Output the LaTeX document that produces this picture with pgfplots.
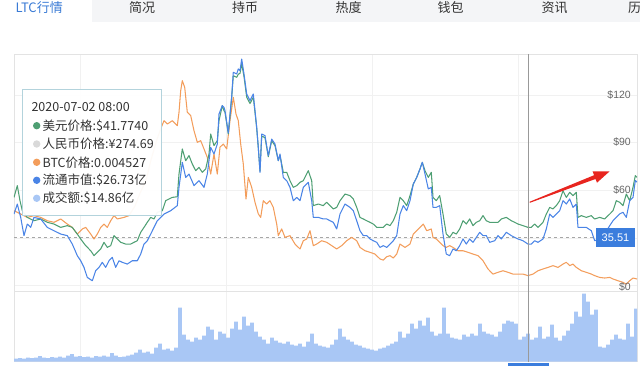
\documentclass[border=0pt]{standalone}
\usepackage{pgfplots}
\pgfplotsset{compat=1.18}
\usepackage{fontspec}
\setmainfont{Liberation Sans}
\newfontfamily\cjk{Noto Sans CJK SC}
\definecolor{cgreen}{HTML}{4E9F73}
\definecolor{corange}{HTML}{F39D5B}
\definecolor{cblue}{HTML}{4A84E6}
\definecolor{cvol}{HTML}{A9C7F5}
\definecolor{cgrid}{HTML}{F1F1F1}
\definecolor{cborder}{HTML}{E3E3E3}
\definecolor{ctabbg}{HTML}{F4F5F7}
\definecolor{ctab}{HTML}{3A7BD5}
\definecolor{ctext}{HTML}{333333}
\definecolor{clabel}{HTML}{666666}
\definecolor{cbox}{HTML}{3B7DDD}
\definecolor{carrow}{HTML}{E8251F}
\definecolor{ctipborder}{HTML}{B3D3DC}
\definecolor{crmb}{HTML}{D9D9D9}

\pgfplotstableread{
x v
14 55.4
17.3 62.8
20 53.3
22.3 47.0
27.3 42.8
34 40.7
40.7 41.8
47.3 39.7
54 38.6
60.7 36.5
67.3 37.6
72.3 36.5
77.3 32.3
80.7 29.2
85.7 25.0
90.7 21.8
94 18.7
97.3 20.8
100.7 22.9
104 27.1
107.3 23.9
110.7 25.0
114 31.3
117.3 29.2
120.7 27.1
125.7 26.0
130.7 26.0
134 27.1
137.3 28.1
140.7 33.4
144 36.5
147.3 39.7
150.7 42.8
154 41.8
157.3 46.0
162.3 47.0
165.7 53.3
169 54.4
172.3 55.4
177.3 55.8
179 70.1
182.3 85.9
185.7 78.5
189 81.7
192.3 76.4
195.7 72.2
199 74.3
202.3 71.2
205.7 73.3
209 82.7
210.7 95.3
214 88.0
217.3 91.1
219 103.7
222.3 113.2
224 110.0
225 109.0
228.3 95.3
231.7 118.4
233.3 132.0
236.7 131.0
238.3 133.0
240 133.5
241.7 139.5
244 131.5
246.7 118.5
250 114.5
253.3 118.5
255 109.0
256.7 99.0
258.3 86.5
260 72.0
261.7 94.0
265 93.0
268.3 81.0
271.7 91.0
275 88.0
278.3 78.5
280 82.0
283.3 71.2
286.7 71.2
290 65.9
293.3 61.7
296.7 62.8
300 64.9
303.3 65.9
308.3 72.2
311.7 65.9
313.3 50.2
318.3 51.2
323.3 50.2
326.7 52.3
330 50.2
333.3 48.1
336.7 49.1
340 53.3
345 57.5
350 56.5
353.3 54.4
356.7 49.1
360 42.8
363.3 41.8
366.7 40.7
370 39.7
373.3 38.6
376.7 36.5
380 36.5
383.3 36.5
386.7 38.6
390 37.6
393.3 40.7
396.7 46.0
400 55.4
403.3 53.3
406.7 50.2
410 56.5
413.3 63.8
416.7 68.0
420 73.3
422.3 77.5
425 72.2
428.3 68.0
431.3 71.2
433 55.4
436.3 53.3
439.7 56.5
443 44.9
446.3 32.3
449.7 30.2
453 33.4
456.3 32.3
459.7 35.5
463 40.7
466.3 38.6
469.7 41.8
473 37.6
476.3 39.7
479.7 40.7
483 43.9
486.3 40.7
489.7 39.7
494.7 39.7
498 39.7
501.3 41.8
506.3 42.8
511.3 40.7
514.7 39.7
518 38.6
523 37.6
528 36.5
531.3 36.5
534.7 38.6
538 36.5
543 39.7
546.3 44.9
549.7 49.1
553 48.1
556.3 50.2
559.7 53.3
563 59.6
566.3 55.4
569.7 58.6
573 56.5
576.3 58.6
578 42.8
581.3 43.9
586.3 42.8
591.3 43.9
594.7 41.8
599.7 42.8
604.7 41.8
609.7 44.9
613 47.0
616.3 53.3
619.7 52.3
623 50.2
626.3 57.5
629.7 53.3
633 61.7
635.3 69.1
637 68.0
}\usd

\pgfplotstableread{
x v
14 44.9
17.3 51.2
20.7 42.8
24 31.3
27.3 38.6
30.7 36.5
34 42.8
40.7 41.8
47.3 36.5
54 34.4
60.7 32.3
67.3 31.3
72.3 26.0
77.3 18.7
80.7 15.5
84 11.3
87.3 5.0
92.3 2.9
95.7 9.2
99 11.3
102.3 14.5
105.7 11.3
109 15.5
112.3 17.6
115.7 11.3
119 15.5
122.3 14.5
127.3 13.4
132.3 15.5
137.3 15.5
140.7 19.7
144 26.0
147.3 28.1
150.7 32.3
154 36.5
157.3 40.7
160.7 42.8
164 44.9
170.7 47.0
177.3 50.2
179 61.7
182.3 77.5
185.7 68.0
189 70.1
194 62.8
199 65.9
204 61.7
207.3 70.1
210.7 86.9
214 82.7
217.3 89.0
219 107.9
222.3 113.2
224 112.1
225 110.0
228.3 96.0
231.7 119.0
233.3 134.2
236.7 133.1
238.3 136.3
240 135.2
241.7 142.5
244 133.1
246.7 120.5
250 116.3
253.3 120.5
255 110.0
256.7 99.5
258.3 86.9
260 71.2
261.7 95.3
265 94.3
268.3 81.7
271.7 92.1
275 89.0
278.3 78.5
280 82.7
283.3 68.0
286.7 65.9
290 61.7
293.3 53.3
296.7 55.4
300 53.3
303.3 61.7
308.3 64.9
311.7 53.3
313.3 42.8
318.3 42.8
323.3 41.8
326.7 41.8
330 40.7
333.3 39.7
336.7 35.5
340 44.9
345 51.2
350 49.1
353.3 47.0
356.7 40.7
360 34.4
363.3 31.3
366.7 31.3
370 29.2
373.3 28.1
376.7 27.1
380 23.9
383.3 25.0
386.7 23.9
390 26.0
393.3 28.1
396.7 31.3
400 44.9
403.3 50.2
406.7 47.0
410 53.3
413.3 63.8
416.7 68.0
420 73.3
422.3 77.5
425 70.1
428.3 60.7
431.3 61.7
433 49.1
436.3 49.1
439.7 50.2
443 32.3
446.3 19.7
449.7 18.7
453 22.9
456.3 21.8
459.7 25.0
463 29.2
466.3 26.0
469.7 29.2
473 27.1
476.3 30.2
479.7 33.4
483 31.3
486.3 31.3
489.7 27.1
494.7 28.1
498 31.3
501.3 29.2
506.3 33.4
511.3 31.3
514.7 30.2
518 29.2
523 28.1
528 26.0
531.3 26.0
534.7 28.1
538 27.1
543 29.2
546.3 35.5
549.7 44.9
553 42.8
556.3 44.9
559.7 47.0
563 53.3
566.3 51.2
569.7 54.4
573 49.1
576.3 51.2
578 36.5
581.3 36.5
586.3 36.5
591.3 34.4
594.7 28.1
599.7 29.2
604.7 32.3
609.7 37.6
613 40.7
616.3 42.8
619.7 45.0
623 46.0
626.3 42.8
629.7 53.3
633 55.4
635.3 66.0
637 65.0
}\mcap

\pgfplotstableread{
x v
14 47.0
20.7 44.9
27.3 42.8
34 43.9
40.7 42.8
47.3 40.7
54 39.7
60.7 41.8
67.3 38.6
72.3 36.5
77.3 32.3
82.3 35.5
85.7 36.5
90.7 32.3
94 29.2
97.3 32.3
100.7 36.5
104 38.6
107.3 36.5
110.7 40.7
114 43.9
117.3 41.8
124 42.8
129 43.9
135 50.0
140 58.0
146 66.0
151 79.0
157 92.0
161 99.0
164 103.7
167.3 101.6
172.3 103.7
177.3 100.6
179 109.0
180.7 122.6
182.3 128.9
184.7 124.7
187.3 109.0
190.7 106.9
194 97.4
197.3 90.1
200.7 91.1
204 85.9
207.3 80.6
210.7 70.1
214 82.7
217.3 70.1
220 87.0
223.3 89.0
226.7 85.9
230 103.7
233.3 118.4
236 107.9
238.3 103.7
240.7 89.0
243.3 76.4
246 54.4
248.3 68.0
251.7 61.7
255 52.3
258.3 45.0
260.7 42.8
263.3 53.3
266.7 51.2
270 53.3
273.3 49.1
276.7 38.6
278.3 31.3
281.7 35.5
285 30.2
290 31.3
295 26.0
300 22.9
303.3 28.1
306.7 29.2
310 34.4
313.3 25.0
316.7 26.0
321.7 28.1
326.7 27.1
331.7 25.0
336.7 22.9
341.7 25.0
346.7 28.1
351.7 30.2
356.7 28.1
360 23.9
365 21.8
370 20.8
375 19.7
380 16.6
383.3 15.9
386.7 18.0
390 18.7
393.3 17.2
396.7 19.7
400 26.0
405 23.9
410 26.0
413.3 32.3
418.3 35.5
423.3 38.6
426.7 34.4
431.3 35.5
433 30.2
436.3 29.2
439.7 27.1
443 25.0
446.3 23.9
449.7 25.0
453 23.9
458 21.8
463 21.8
468 20.8
473 19.7
478 18.7
483 15.5
488 10.3
493 7.1
498 8.2
503 9.2
508 8.2
513 7.1
518 7.1
523 7.1
528 6.1
533 7.1
538 9.2
543 10.3
548 11.3
553 12.4
558 11.3
563 13.4
566.3 14.5
569.7 12.4
573 13.4
576.3 11.3
581.3 9.2
586.3 8.2
591.3 7.1
594.7 6.1
599.7 5.0
604.7 4.6
609.7 5.0
613 4.0
618 2.9
623 1.9
626.3 0.8
629.7 2.9
633 4.6
637 4.0
}\btc

\pgfplotstableread{
x h
16 3
20 3.5
24 3
28 4
32 3.5
36 4
40 5.5
44 4
48 3.5
52 4.5
56 4
60 5
64 4
68 6
72 7.5
76 5
80 5.5
84 4.5
88 5
92 4
96 5.5
100 5
104 6
108 5
112 8.5
116 6
120 4.5
124 5
128 6
132 7
136 9
140 12
144 9
148 10
152 8
156 14
160 18
164 12
168 13
172 11
176 14
180 54
184 27
188 22
192 20
196 24
200 22
204 26
208 35
212 32
216 22
220 30
224 28
228 24
232 33
236 40
240 32
244 45
248 36
252 39
256 30
260 25
264 22
268 18
272 24
276 21
280 19
284 18
288 20
292 17
296 16
300 18
304 15
308 20
312 28
316 18
320 16
324 15
328 14
332 17
336 22
340 33
344 25
348 22
352 20
356 17
360 16
364 14
368 13
372 12
376 11
380 13
384 14
388 16
392 18
396 20
400 30
404 24
408 28
412 38
416 33
420 41
424 36
428 44
432 30
436 26
440 28
444 54
448 28
452 24
456 23
460 22
464 27
468 25
472 28
476 26
480 38
484 30
488 28
492 27
496 25
500 30
504 38
508 41
512 40
516 38
520 22
524 25
528 28
532 22
536 24
540 35
544 23
548 25
552 37
556 24
560 21
564 26
568 31
572 38
576 50
580 45
584 68
588 60
592 47
596 52
600 15
604 14
608 17
612 22
616 27
620 23
624 22
628 38
632 25
636 53
}\vol

\begin{document}
\begin{tikzpicture}[x=1pt,y=1pt]
\path[use as bounding box] (0,0) rectangle (640,366);
% tab bar
\fill[ctabbg] (92,344) rectangle (640,366);
\begin{scope}[every node/.style={font=\cjk\fontsize{13}{13}\selectfont, text=ctext, inner sep=0pt}]
\node[text=ctab, anchor=west] at (15.5,358) {LTC行情};
\node at (142,358) {简况};
\node at (245,358) {持币};
\node at (348.5,358) {热度};
\node at (450.5,358) {钱包};
\node at (554.5,358) {资讯};
\node[anchor=west] at (628,358) {历};
\end{scope}

% volume axis
\begin{axis}[at={(14pt,4.3pt)}, anchor=south west, scale only axis,
  width=623pt, height=70pt, xmin=14, xmax=637, ymin=0, ymax=70,
  axis line style={draw=cborder}, xtick={80,226,372,518}, ytick=\empty,
  xmajorgrids, grid style={cgrid}, major tick length=0, xticklabels={}]
\addplot[ybar, bar width=3.7, fill=cvol, draw=none] table[x=x,y=h] {\vol};
\end{axis}

% price axis
\begin{axis}[at={(14pt,74.3pt)}, anchor=south west, scale only axis,
  width=623pt, height=237.7pt, xmin=14, xmax=637, ymin=-4, ymax=145.7,
  axis line style={draw=cborder}, xtick={80,226,372,518}, ytick={0,30,60,90,120},
  grid=major, grid style={cgrid}, major tick length=0,
  xticklabels={}, yticklabels={}]
\draw[dashed, color=black!35] (axis cs:14,30.4) -- (axis cs:596,30.4);
\addplot[corange, line width=1.05pt, no marks, line join=round] table[x=x,y=v] {\btc};
\addplot[cgreen, line width=1.05pt, no marks, line join=round] table[x=x,y=v] {\usd};
\addplot[cblue, line width=1.05pt, no marks, line join=round] table[x=x,y=v] {\mcap};
\begin{scope}[every node/.style={font=\fontsize{10.5}{10.5}\selectfont, text=clabel, anchor=east, inner sep=0pt}]
\node at (axis cs:631,120) {\$120};
\node at (axis cs:631,90) {\$90};
\node at (axis cs:631,60) {\$60};
\node at (axis cs:631,-1) {\$0};
\end{scope}
\end{axis}

% crosshair
\draw[color=black!40, line width=0.8pt] (528.7,4) -- (528.7,312);
\fill[cbox] (508,0) rectangle (549,3);

% value box
\fill[cbox] (596,119) rectangle (635,138);
\node[font=\fontsize{11}{11}\selectfont, text=white, inner sep=0pt] at (615.5,128.5) {35.51};

% red arrow
\fill[carrow] (529.5,164.2) -- (594.1,190.8) -- (592.6,194.5) -- (609.7,194.7) -- (597.0,183.3) -- (595.5,187.0) -- (529.9,163.2) -- cycle;

% tooltip
\filldraw[fill=white, fill opacity=0.95, draw=ctipborder, line width=0.7pt] (22.3,151) rectangle (161.7,276.3);
\begin{scope}[every node/.style={font=\cjk\fontsize{12.5}{12.5}\selectfont, text=ctext, anchor=west, inner sep=0pt}]
\node at (31.3,258.7) {2020-07-02 08:00};
\fill[cgreen] (36.7,240.3) circle (3.7);
\node at (42.5,240.3) {美元价格:\$41.7740};
\fill[crmb] (36.7,222) circle (3.7);
\node at (42.5,222) {人民币价格:¥274.69};
\fill[corange] (36.7,203.7) circle (3.7);
\node at (42.5,203.7) {BTC价格:0.004527};
\fill[cblue] (36.7,185.7) circle (3.7);
\node at (42.5,185.7) {流通市值:\$26.73亿};
\fill[cvol] (36.7,167.7) circle (3.7);
\node at (42.5,167.7) {成交额:\$14.86亿};
\end{scope}
\end{tikzpicture}
\end{document}
